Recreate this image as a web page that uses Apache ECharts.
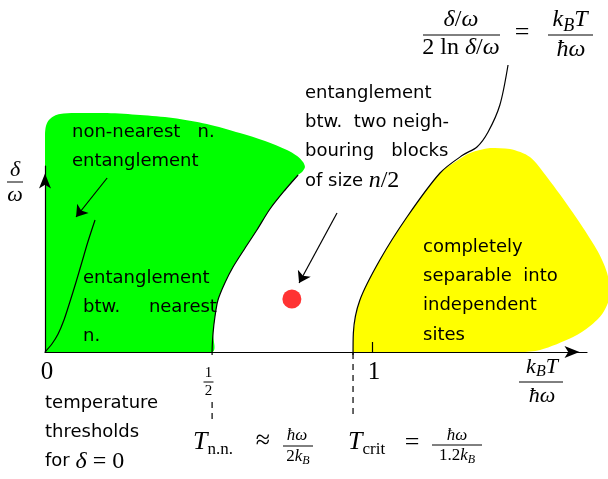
<!DOCTYPE html>
<html>
<head>
<meta charset="utf-8">
<script src="https://cdn.jsdelivr.net/npm/echarts@6/dist/echarts.min.js"></script>
<style>html,body{margin:0;padding:0;background:#fff}#main{width:608px;height:479px}</style>
</head>
<body>
<div id="main"></div>
<script>
// all points are [kBT/hw, delta/w] (schematic units)
var greenRegion = [
  [0, 0], [0, 2.17], [0.003, 2.26], [0.012, 2.32], [0.028, 2.36], [0.046, 2.38],
  [0.092, 2.39], [0.190, 2.39], [0.291, 2.37], [0.391, 2.34], [0.495, 2.28],
  [0.596, 2.19], [0.673, 2.11], [0.740, 2.02], [0.771, 1.96], [0.789, 1.90],
  [0.795, 1.85], [0.786, 1.80], [0.774, 1.77], [0.734, 1.62], [0.688, 1.43],
  [0.648, 1.22], [0.612, 1.04], [0.575, 0.85], [0.550, 0.69], [0.529, 0.52],
  [0.520, 0.36], [0.514, 0.19], [0.511, 0]
];
var yellowRegion = [
  [0.942, 0], [0.943, 0.19], [0.963, 0.52], [1.024, 0.92], [1.107, 1.35],
  [1.208, 1.79], [1.254, 1.90], [1.300, 1.99], [1.361, 2.04], [1.422, 2.03],
  [1.483, 1.95], [1.535, 1.75], [1.615, 1.39], [1.688, 1.02], [1.719, 0.79],
  [1.728, 0.57], [1.706, 0.39], [1.667, 0.26], [1.615, 0.15], [1.514, 0.02],
  [1.453, 0]
];
var nnBoundary = [
  [0.511, -0.03], [0.511, 0], [0.514, 0.19], [0.520, 0.36], [0.529, 0.52],
  [0.550, 0.69], [0.575, 0.85], [0.612, 1.04], [0.648, 1.22], [0.688, 1.43],
  [0.734, 1.62], [0.774, 1.77]
];
var critBoundary = [
  [0.942, -0.03], [0.943, 0.19], [0.963, 0.52], [1.024, 0.92], [1.107, 1.35],
  [1.208, 1.79], [1.278, 1.97], [1.321, 2.05], [1.355, 2.20], [1.391, 2.47],
  [1.416, 2.87]
];
var nonNearestCurve = [
  [0, 0], [0.021, 0.08], [0.040, 0.18], [0.058, 0.32], [0.076, 0.50],
  [0.095, 0.70], [0.113, 0.90], [0.131, 1.10], [0.153, 1.32]
];
var dashNN = [[0.511, -0.50], [0.511, -0.68]];
var dashCrit = [[0.942, -0.01], [0.942, -0.63]];
var arrowLines = [
  [[0.190, 1.74], [0.095, 1.35]],
  [[0.893, 1.39], [0.777, 0.69]]
];
var stateDot = [[0.755, 0.53]];
var xTickValues = [0, 0.5, 1];
var xTickNames = ['0', '1/2', '1'];
var xTickMarks = [1];

var chart = echarts.init(document.getElementById('main'));

function polygonSeries(points, color) {
  return {
    type: 'custom',
    z: 1,
    clip: false,
    silent: true,
    data: [points[0]],
    renderItem: function (params, api) {
      var pts = points.map(function (p) { return api.coord(p); });
      var xs = pts.map(function (p) { return p[0]; }), ys = pts.map(function (p) { return p[1]; });
      var box = [[Math.min.apply(null, xs), Math.min.apply(null, ys)],
                 [Math.max.apply(null, xs), Math.max.apply(null, ys)]];
      return {
        type: 'polygon',
        shape: { points: pts, smooth: 0.3, smoothConstraint: box },
        style: { fill: color }
      };
    }
  };
}
function curve(points, dash) {
  return {
    type: 'line', data: points, smooth: dash ? false : 0.3, showSymbol: false, clip: false, z: 4, silent: true,
    lineStyle: { color: '#000', width: 1.2, type: dash ? [6, 5] : 'solid' }
  };
}

var axisLine = {
  symbol: ['none', 'arrow'], symbolSize: [9, 15], symbolOffset: [0, -7.5],
  lineStyle: { color: '#000', width: 1.2 }
};

chart.setOption({
  animation: false,
  grid: { left: 45, right: 21, top: 166, bottom: 127 },
  xAxis: {
    type: 'value', min: 0, max: 542 / 327, z: 5,
    axisLine: axisLine,
    axisTick: { show: true, customValues: xTickMarks, inside: true, length: 10, lineStyle: { color: '#000', width: 1.2 } },
    axisLabel: { show: false },
    splitLine: { show: false }
  },
  yAxis: {
    type: 'value', min: 0, max: 1.86, z: 5,
    axisLine: axisLine,
    axisTick: { show: false }, axisLabel: { show: false }, splitLine: { show: false }
  },
  series: [
    polygonSeries(greenRegion, '#00ff00'),
    polygonSeries(yellowRegion, '#ffff00'),
    curve(nnBoundary), curve(critBoundary), curve(nonNearestCurve),
    curve(dashNN, true), curve(dashCrit, true),
    {
      type: 'lines', coordinateSystem: 'cartesian2d', z: 4, silent: true,
      symbol: ['none', 'arrow'], symbolSize: 11,
      lineStyle: { color: '#000', width: 1.2, opacity: 1 },
      data: arrowLines.map(function (c) { return { coords: c }; })
    },
    {
      type: 'scatter', data: stateDot, symbolSize: 19, z: 6, silent: true,
      itemStyle: { color: '#ff0000' }
    }
  ]
});

// ---- text: sans labels and LaTeX-like math
var SERIF = '"Liberation Serif"';
var ctx = document.createElement('canvas').getContext('2d');
function fontOf(t) { return (t[1] === 'i' ? 'italic ' : '') + t[2] + 'px ' + SERIF; }
function mathRow(x, y, toks, left) {
  var w = toks.map(function (t) { ctx.font = fontOf(t); return ctx.measureText(t[0]).width; });
  var total = w.reduce(function (a, b) { return a + b; }, 0);
  var cx = left ? x : x - total / 2, out = [];
  toks.forEach(function (t, i) {
    out.push({
      type: 'text', x: cx, y: y + (t[3] || 0), z: 100,
      style: { text: t[0], fontFamily: 'Liberation Serif', fontStyle: t[1] === 'i' ? 'italic' : 'normal',
        fontSize: t[2], fill: '#000', align: 'left', verticalAlign: 'middle' }
    });
    cx += w[i];
  });
  return out;
}
function bar(x1, x2, y) {
  return { type: 'line', z: 100, shape: { x1: x1, y1: y, x2: x2, y2: y }, style: { stroke: '#000', lineWidth: 1 } };
}
function block(x, y, text, rich) {
  return {
    type: 'text', x: x, y: y, z: 100,
    style: { text: text, fontFamily: 'DejaVu Sans', fontSize: 18, lineHeight: 29.3, fill: '#000',
      verticalAlign: 'top', rich: rich || {} }
  };
}
var mathRich = {
  m: { fontFamily: 'Liberation Serif', fontStyle: 'italic', fontSize: 24, lineHeight: 29.3 },
  r: { fontFamily: 'Liberation Serif', fontSize: 24, lineHeight: 29.3 }
};

var g = [];
g.push(block(72, 117.5, 'non-nearest   n.\nentanglement'));
g.push(block(83, 263.5, 'entanglement\nbtw.     nearest\nn.'));
g.push(block(305, 78.5, 'entanglement\nbtw.  two neigh-\nbouring   blocks\nof size {m|n}{r|/2}', mathRich));
g.push(block(423, 232.5, 'completely\nseparable  into\nindependent\nsites'));
g.push(block(45, 388.5, 'temperature\nthresholds\nfor {m|δ}{r| = 0}', mathRich));

// top formula: (δ/ω)/(2 ln δ/ω) = kBT/ħω
g = g.concat(mathRow(461, 20, [['δ', 'i', 24], ['/', 'r', 24], ['ω', 'i', 24]]));
g.push(bar(423, 500, 35));
g = g.concat(mathRow(461, 48, [['2 ln ', 'r', 24], ['δ', 'i', 24], ['/', 'r', 24], ['ω', 'i', 24]]));
g = g.concat(mathRow(522, 33, [['=', 'r', 26]]));
g = g.concat(mathRow(570, 20, [['k', 'i', 24], ['B', 'i', 18, 6], ['T', 'i', 24]]));
g.push(bar(548, 593, 35));
g = g.concat(mathRow(571, 50, [['ħ', 'i', 24], ['ω', 'i', 24]]));

// axis titles
g = g.concat(mathRow(15, 170, [['δ', 'i', 22]]));
g.push(bar(7, 23, 182));
g = g.concat(mathRow(15, 195, [['ω', 'i', 22]]));
g = g.concat(mathRow(542, 367, [['k', 'i', 22], ['B', 'i', 16, 5], ['T', 'i', 22]]));
g.push(bar(519, 563, 382));
g = g.concat(mathRow(542, 396, [['ħ', 'i', 22], ['ω', 'i', 22]]));

// thresholds
g = g.concat(mathRow(193, 442, [['T', 'i', 26], ['n.n.', 'r', 17, 8]], true));
g = g.concat(mathRow(263, 441, [['≈', 'r', 26]]));
g = g.concat(mathRow(297, 436, [['ħ', 'i', 17], ['ω', 'i', 17]]));
g.push(bar(283, 313, 446));
g = g.concat(mathRow(298, 457, [['2', 'r', 17], ['k', 'i', 17], ['B', 'i', 12, 4]]));

g = g.concat(mathRow(348, 442, [['T', 'i', 26], ['crit', 'r', 17, 8]], true));
g = g.concat(mathRow(412, 443, [['=', 'r', 26]]));
g = g.concat(mathRow(457, 436, [['ħ', 'i', 17], ['ω', 'i', 17]]));
g.push(bar(432, 482, 445));
g = g.concat(mathRow(457, 456, [['1.2', 'r', 17], ['k', 'i', 17], ['B', 'i', 12, 4]]));

// x tick labels placed through the axis scale
xTickValues.forEach(function (v, i) {
  var px = chart.convertToPixel({ xAxisIndex: 0 }, v);
  var name = xTickNames[i];
  if (name.indexOf('/') > 0) {
    var parts = name.split('/');
    g = g.concat(mathRow(px, 373, [[parts[0], 'r', 15]]));
    g.push(bar(px - 5, px + 5, 382));
    g = g.concat(mathRow(px, 391, [[parts[1], 'r', 15]]));
  } else {
    g = g.concat(mathRow(px + 2, 372, [[name, 'r', 25]]));
  }
});

chart.setOption({ graphic: { elements: g } });
</script>
</body>
</html>
